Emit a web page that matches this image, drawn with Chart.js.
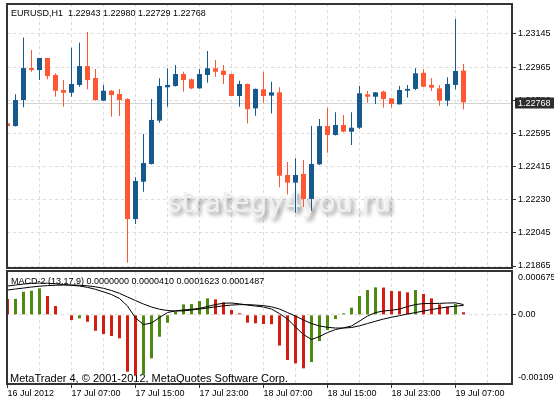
<!DOCTYPE html>
<html><head><meta charset="utf-8">
<script src="https://cdn.jsdelivr.net/npm/chart.js@4.4.0/dist/chart.umd.min.js"></script>
<style>
html,body{margin:0;padding:0;background:#fff;width:554px;height:403px;overflow:hidden}
canvas{position:absolute;left:0}
#main{top:0}
#macd{top:270px}
</style></head><body>
<canvas id="main" width="554" height="270"></canvas>
<canvas id="macd" width="554" height="133"></canvas>
<script>
// ---------- data ----------
const symbol = 'EURUSD,H1';
const opens = [1.22652,1.22637,1.22781,1.22957,1.22946,1.23013,1.22919,1.22836,1.22821,1.22864,
1.22968,1.22902,1.22777,1.22832,1.22814,1.22786,1.22124,1.22330,1.22428,1.22667,
1.22851,1.22858,1.22924,1.22895,1.22845,1.22919,1.22956,1.22943,1.22924,1.22803,
1.22869,1.22735,1.22840,1.22805,1.22823,1.22367,1.22325,1.22373,1.22235,1.22426,
1.22637,1.22588,1.22643,1.22606,1.22628,1.22812,1.22799,1.22827,1.22790,1.22757,
1.22832,1.22842,1.22931,1.22864,1.22845,1.22777,1.22864,1.22943];
const highs = [1.22698,1.22812,1.23125,1.23057,1.23013,1.23013,1.22928,1.22891,1.23069,1.23097,
1.23156,1.22952,1.22864,1.22836,1.22842,1.22790,1.22354,1.22593,1.22786,1.22901,
1.22956,1.22974,1.22937,1.22899,1.22952,1.23051,1.23002,1.22974,1.22927,1.22887,
1.22872,1.22845,1.22937,1.22882,1.22851,1.22439,1.22459,1.22450,1.22637,1.22676,
1.22738,1.22713,1.22698,1.22713,1.22858,1.22831,1.22825,1.22832,1.22792,1.22858,
1.22864,1.22956,1.22952,1.22901,1.22864,1.22906,1.23228,1.22980];
const lows = [1.22632,1.22634,1.22741,1.22937,1.22891,1.22895,1.22799,1.22744,1.22799,1.22854,
1.22840,1.22777,1.22775,1.22689,1.22693,1.21883,1.22097,1.22275,1.22425,1.22656,
1.22744,1.22855,1.22827,1.22840,1.22844,1.22876,1.22909,1.22869,1.22803,1.22744,
1.22651,1.22694,1.22766,1.22707,1.22299,1.22259,1.22159,1.22191,1.22170,1.22422,
1.22490,1.22585,1.22603,1.22533,1.22621,1.22766,1.22759,1.22738,1.22738,1.22756,
1.22794,1.22836,1.22851,1.22831,1.22749,1.22748,1.22840,1.22729];
const closes = [1.22637,1.22781,1.22957,1.22946,1.23013,1.22913,1.22832,1.22821,1.22869,1.22968,
1.22891,1.22781,1.22832,1.22808,1.22781,1.22124,1.22334,1.22433,1.22671,1.22858,
1.22864,1.22924,1.22891,1.22845,1.22924,1.22956,1.22937,1.22919,1.22803,1.22869,
1.22730,1.22842,1.22803,1.22823,1.22363,1.22325,1.22367,1.22235,1.22428,1.22637,
1.22588,1.22643,1.22606,1.22628,1.22818,1.22799,1.22823,1.22786,1.22759,1.22836,
1.22842,1.22928,1.22854,1.22849,1.22777,1.22869,1.22941,1.22768];

const priceTicks = [1.23145,1.22962,1.22779,1.22596,1.22414,1.22231,1.22048,1.21865];
const priceTickLabels = ['1.23145','1.22965','1.22780','1.22595','1.22415','1.22230','1.22045','1.21865'];
const timeTickLabels = ['16 Jul 2012','17 Jul 07:00','17 Jul 15:00','17 Jul 23:00','18 Jul 07:00','18 Jul 15:00','18 Jul 23:00','19 Jul 07:00'];

const histValues = [0.000249,0.000252,0.000364,0.000380,0.000418,0.000296,0.000139,0.000008,-0.000082,-0.000055,
-0.000109,-0.000251,-0.000303,-0.000334,-0.000370,-0.000897,-0.000949,-0.000938,-0.000686,-0.000345,
-0.000124,0.000049,0.000165,0.000170,0.000217,0.000260,0.000244,0.000197,0.000076,0.000024,
-0.000124,-0.000134,-0.000145,-0.000148,-0.000484,-0.000712,-0.000764,-0.000843,-0.000744,-0.000413,
-0.000240,-0.000066,0.000024,0.000112,0.000296,0.000391,0.000433,0.000430,0.000375,0.000372,
0.000355,0.000391,0.000328,0.000260,0.000165,0.000128,0.000170,0.0000410];
const macdMain = [0.000454,0.000470,0.000485,0.000496,0.000501,0.000498,0.000489,0.000477,0.000465,0.000454,
0.000433,0.000402,0.000362,0.000320,0.000257,0.000139,-0.000050,-0.000153,-0.000129,-0.000043,
0.000036,0.000063,0.000076,0.000087,0.000102,0.000131,0.000162,0.000183,0.000186,0.000173,
0.000154,0.000139,0.000123,0.000091,0.000020,-0.000066,-0.000192,-0.000310,-0.000389,-0.000342,
-0.000279,-0.000232,-0.000205,-0.000176,-0.000098,-0.000019,0.000036,0.000060,0.000072,0.000091,
0.000131,0.000162,0.000178,0.000178,0.000181,0.000186,0.000189,0.0001623];
const macdSignal = [0.000391,0.000407,0.000422,0.000438,0.000451,0.000460,0.000466,0.000470,0.000470,0.000466,
0.000457,0.000441,0.000418,0.000383,0.000339,0.000281,0.000225,0.000170,0.000123,0.000088,
0.000068,0.000060,0.000063,0.000076,0.000091,0.000107,0.000126,0.000142,0.000154,0.000161,
0.000161,0.000154,0.000145,0.000126,0.000091,0.000036,-0.000019,-0.000082,-0.000137,-0.000176,
-0.000197,-0.000208,-0.000208,-0.000200,-0.000173,-0.000137,-0.000101,-0.000066,-0.000038,-0.000013,
0.000013,0.000036,0.000060,0.000084,0.000104,0.000123,0.000136,0.0001487];
const macdTicks = [0.000675, 0, -0.00109];
const macdTickLabels = ['0.000675','0.00','-0.00109'];
const macdTitle = 'MACD-2 (13,17,9)';
const copyrightText = 'MetaTrader 4, \u00A9 2001-2012, MetaQuotes Software Corp.';
const watermarkText = 'strategy4you.ru';

// ---------- styles ----------
const N = opens.length;
const BULL = '#16598C', BEAR = '#FF5733';
const HUP = '#4E8A12', HDOWN = '#D41C10';
const GRID = '#dcdcdc', FRAME = '#333333';
const FONT = '"Liberation Sans", Arial, sans-serif';
Chart.defaults.font.family = FONT;
Chart.defaults.font.size = 9;
Chart.defaults.color = '#000';
Chart.defaults.animation = false;

const candleColor = i => closes[i] >= opens[i] ? BULL : BEAR;
const histColor = i => (i > 0 && histValues[i] > histValues[i - 1]) ? HUP : HDOWN;

function xAxis(showLabels) {
  return {
    type: 'linear', min: -0.0625, max: 63.0625, offset: false, bounds: 'data',
    grid: {
      offset: false, color: GRID, lineWidth: 1,
      drawTicks: showLabels, tickLength: 4, tickBorderDash: [],
      tickColor: c => (c.tick && c.tick.value % 8 === 0) ? FRAME : 'rgba(0,0,0,0)'
    },
    border: { display: false, dash: [3, 3] },
    ticks: {
      display: showLabels, autoSkip: false, maxRotation: 0, minRotation: 0,
      align: 'start', padding: 0, font: { family: FONT, size: 9 }, color: '#000',
      callback: v => (v % 8 === 0 && timeTickLabels[v / 8] !== undefined) ? timeTickLabels[v / 8] : ''
    },
    afterBuildTicks: s => { const t = []; for (let k = 0; k <= 60; k += 4) t.push({ value: k }); s.ticks = t; },
    afterFit: s => { s.height = showLabels ? 19 : 0; s.paddingLeft = 0; s.paddingRight = 0; }
  };
}

// ---------- main (price) chart ----------
const mainDecor = {
  id: 'mainDecor',
  beforeDatasetsDraw(chart) {
    const { ctx, chartArea: a, scales: { y } } = chart;
    ctx.save();
    ctx.beginPath(); ctx.rect(a.left, a.top, a.right - a.left, a.bottom - a.top); ctx.clip();
    ctx.font = '28px "DejaVu Sans"';
    ctx.textAlign = 'left'; ctx.textBaseline = 'alphabetic';
    ctx.shadowColor = 'rgba(0,0,0,0.45)'; ctx.shadowBlur = 4;
    ctx.shadowOffsetX = 3; ctx.shadowOffsetY = 3;
    ctx.fillStyle = '#f0f0f0';
    ctx.fillText(watermarkText, 167, 212);
    ctx.restore();
    const yp = Math.ceil(y.getPixelForValue(closes[N - 1])) + 0.5;
    ctx.save();
    ctx.strokeStyle = '#d4d4d4'; ctx.lineWidth = 1;
    ctx.beginPath(); ctx.moveTo(a.left, yp); ctx.lineTo(a.right, yp); ctx.stroke();
    ctx.restore();
  },
  afterDraw(chart) {
    const { ctx, chartArea: a, scales: { y } } = chart;
    ctx.save();
    ctx.font = '9px ' + FONT; ctx.fillStyle = '#000';
    ctx.textAlign = 'left'; ctx.textBaseline = 'alphabetic';
    const last = N - 1;
    const head = symbol + '  ' + [opens[last], highs[last], lows[last], closes[last]].map(v => v.toFixed(5)).join(' ');
    ctx.fillText(head, 11, 16);
    ctx.strokeStyle = FRAME; ctx.lineWidth = 2;
    ctx.strokeRect(a.left, a.top, a.right - a.left, a.bottom - a.top);
    const yp = Math.ceil(y.getPixelForValue(closes[last])) + 0.5;
    ctx.fillStyle = '#2e2e2e';
    ctx.fillRect(515, yp - 6, 39, 11);
    ctx.fillStyle = '#fff'; ctx.textBaseline = 'middle';
    ctx.fillText(closes[last].toFixed(5), 518, yp);
    ctx.restore();
  }
};

const idx = opens.map((_, i) => i);
new Chart(document.getElementById('main'), {
  type: 'bar',
  data: {
    datasets: [
      {
        label: 'range', data: idx.map(i => ({ x: i, y: [lows[i], highs[i]] })),
        backgroundColor: c => candleColor(c.dataIndex), barThickness: 1, grouped: false,
        borderWidth: 0, inflateAmount: 0, order: 2
      },
      {
        label: 'body', data: idx.map(i => ({ x: i, y: [opens[i], closes[i]] })),
        backgroundColor: c => candleColor(c.dataIndex), barThickness: 5, grouped: false,
        borderWidth: 0, inflateAmount: 0, minBarLength: 1, order: 1
      }
    ]
  },
  options: {
    responsive: false, devicePixelRatio: 1, animation: false, events: [],
    layout: { padding: { left: 7, top: 4, right: 0, bottom: 2 } },
    plugins: { legend: { display: false }, tooltip: { enabled: false } },
    scales: {
      x: xAxis(false),
      y: {
        type: 'linear', position: 'right', min: 1.21853966, max: 1.23310517, bounds: 'data',
        grid: { color: GRID, lineWidth: 1, drawTicks: true, tickLength: 4, tickColor: FRAME, tickBorderDash: [] },
        border: { display: false, dash: [3, 3] },
        ticks: { autoSkip: false, padding: 2, crossAlign: 'near', font: { family: FONT, size: 9 }, color: '#000',
                 callback: (v, i) => priceTickLabels[i] },
        afterBuildTicks: s => { s.ticks = priceTicks.map(v => ({ value: v })); },
        afterFit: s => { s.width = 42; s.paddingTop = 0; s.paddingBottom = 0; }
      }
    }
  },
  plugins: [mainDecor]
});

// ---------- MACD chart ----------
const macdDecor = {
  id: 'macdDecor',
  beforeDraw(chart) {
    try {
      const items = chart.scales.y.getLabelItems();
      items.forEach(it => {
        if (it.label === macdTickLabels[0]) it.options.translation[1] += 6;
        if (it.label === macdTickLabels[2]) it.options.translation[1] -= 6;
      });
    } catch (e) {}
  },
  beforeDatasetsDraw(chart) {
    const { ctx } = chart;
    const last = N - 1;
    ctx.save();
    ctx.fillStyle = '#000'; ctx.textAlign = 'left'; ctx.textBaseline = 'alphabetic';
    ctx.font = '11px ' + FONT;
    ctx.fillText(copyrightText, 10, 112);
    ctx.font = '9px ' + FONT;
    const upBuf = histColor(last) === HUP ? histValues[last] : 0;
    const dnBuf = histColor(last) === HDOWN ? histValues[last] : 0;
    const t = macdTitle + ' ' + [upBuf, dnBuf, macdMain[last], macdSignal[last]].map(v => v.toFixed(7)).join(' ');
    ctx.fillText(t, 11, 14);
    ctx.restore();
  },
  afterDraw(chart) {
    const { ctx, chartArea: a } = chart;
    ctx.save();
    ctx.strokeStyle = FRAME; ctx.lineWidth = 2;
    ctx.strokeRect(a.left, a.top - 1, a.right - a.left, a.bottom - a.top + 1);
    ctx.restore();
  }
};

new Chart(document.getElementById('macd'), {
  type: 'bar',
  data: {
    datasets: [
      {
        type: 'line', label: 'MACD', data: idx.map(i => ({ x: i, y: macdMain[i] })),
        borderColor: '#000', borderWidth: 1, pointRadius: 0, tension: 0, fill: false, order: 0
      },
      {
        type: 'line', label: 'Signal', data: idx.map(i => ({ x: i, y: macdSignal[i] })),
        borderColor: '#000', borderWidth: 1, pointRadius: 0, tension: 0, fill: false, order: 1
      },
      {
        type: 'bar', label: 'Histogram', data: idx.map(i => ({ x: i, y: histValues[i] })),
        backgroundColor: c => histColor(c.dataIndex), barThickness: 3, grouped: false,
        borderWidth: 0, inflateAmount: 0, order: 2
      }
    ]
  },
  options: {
    responsive: false, devicePixelRatio: 1, animation: false, events: [],
    layout: { padding: { left: 7, top: 2, right: 0, bottom: 0 } },
    plugins: { legend: { display: false }, tooltip: { enabled: false } },
    scales: {
      x: xAxis(true),
      y: {
        type: 'linear', position: 'right', min: -0.00109, max: 0.000675, bounds: 'data',
        grid: {
          color: c => (c.tick && c.tick.value === 0) ? GRID : 'rgba(0,0,0,0)', lineWidth: 1,
          drawTicks: true, tickLength: 4, tickBorderDash: [],
          tickColor: c => (c.tick && c.tick.value === 0) ? FRAME : 'rgba(0,0,0,0)'
        },
        border: { display: false, dash: [3, 3] },
        ticks: { autoSkip: false, padding: 2, crossAlign: 'near', font: { family: FONT, size: 9 }, color: '#000',
                 callback: (v, i) => macdTickLabels[i] },
        afterBuildTicks: s => { s.ticks = macdTicks.map(v => ({ value: v })); },
        afterFit: s => { s.width = 42; s.paddingTop = 0; s.paddingBottom = 0; }
      }
    }
  },
  plugins: [macdDecor]
});
</script>
</body></html>
